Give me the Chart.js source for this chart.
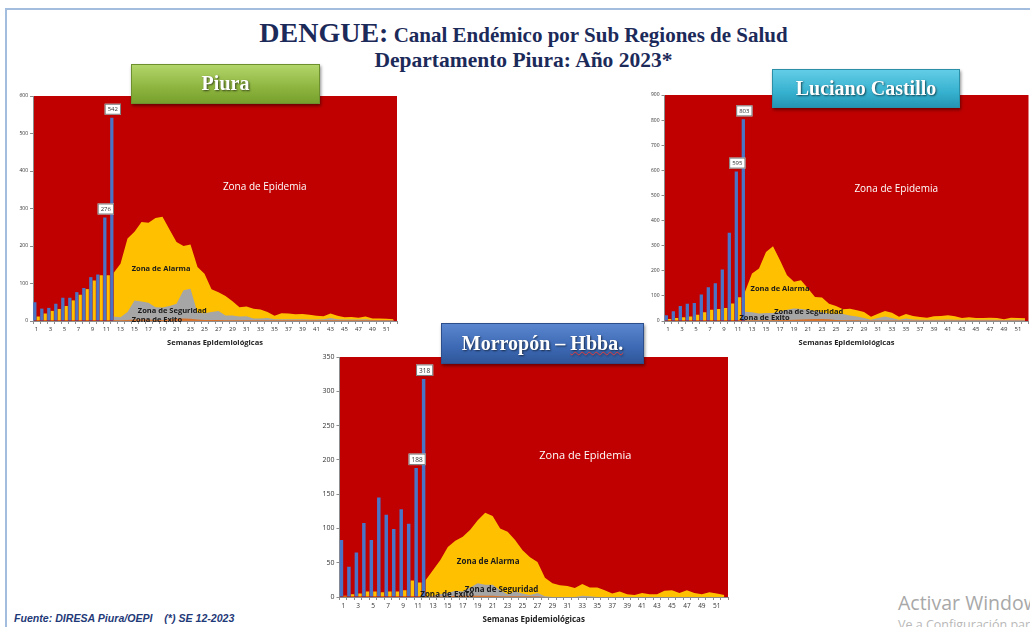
<!DOCTYPE html>
<html>
<head>
<meta charset="utf-8">
<script src="https://cdn.jsdelivr.net/npm/chart.js@4.4.0/dist/chart.umd.min.js"></script>
<style>
  html, body { margin: 0; padding: 0; background: #fff; }
  body { width: 1030px; height: 627px; position: relative; overflow: hidden; font-family: "Liberation Serif", serif; }
  .marco { position: absolute; left: 5px; top: 8px; width: 1040px; height: 640px; border-top: 2px solid #a3bddf; border-left: 2px solid #a3bddf; }
  canvas { position: absolute; }
  .titulo { position: absolute; left: 0; width: 1047px; text-align: center; color: #1c2a5a; font-weight: bold; white-space: nowrap; }
  .t1 { top: 17px; font-size: 21px; }
  .t1 b { font-size: 28px; }
  .t2 { top: 48px; font-size: 21.5px; }
  .caja { position: absolute; z-index: 5; color: #fff; font-weight: bold; font-size: 20px; text-align: center; box-sizing: border-box;
          text-shadow: 1px 1px 2px rgba(0,0,0,0.6); box-shadow: 1px 2px 3px rgba(0,0,0,0.45); white-space: nowrap; }
  .piura { left: 131px; top: 64px; width: 189px; height: 40px; line-height: 36px; border: 1px solid #6d8f2e;
           background: linear-gradient(#b3d56a, #8db43f 60%, #76a02c); }
  .luciano { left: 772px; top: 69px; width: 188px; height: 39px; line-height: 36px; border: 1px solid #2b8fa8;
             background: linear-gradient(#63cde6, #36b1cf 60%, #2595b4); }
  .morropon { left: 441px; top: 323px; width: 203px; height: 41px; line-height: 38px; border: 1px solid #2c4f8c;
              background: linear-gradient(#5a86cf, #3d69b4 60%, #2f5799); }
  .morropon u { text-decoration: underline wavy #e23b3b; text-decoration-thickness: 1px; }
  .fuente { position: absolute; left: 14px; top: 612px; font-family: "Liberation Sans", sans-serif; font-style: italic; font-weight: bold;
            font-size: 10.6px; color: #1f3a78; white-space: pre; }
  .aviso { position: absolute; left: 898px; top: 589px; font-family: "Open Sans", sans-serif; color: #a8a8a8; font-size: 19.5px; white-space: nowrap; }
  .aviso2 { position: absolute; left: 898px; top: 616px; font-family: "Open Sans", sans-serif; color: #b8b8b8; font-size: 12.5px; white-space: nowrap; }
</style>
</head>
<body>
<div class="marco"></div>
<div class="titulo t1"><b>DENGUE:</b> Canal Endémico por Sub Regiones de Salud</div>
<div class="titulo t2">Departamento Piura: Año 2023*</div>

<canvas id="cPiura" width="400" height="260" style="left:0px;top:90px"></canvas>
<canvas id="cLuciano" width="400" height="265" style="left:630px;top:85px"></canvas>
<canvas id="cMorropon" width="435" height="287" style="left:300px;top:340px"></canvas>

<div class="caja piura">Piura</div>
<div class="caja luciano">Luciano Castillo</div>
<div class="caja morropon">Morropón – <u>Hbba.</u></div>

<div class="fuente">Fuente: DIRESA Piura/OEPI    (*) SE 12-2023</div>
<div class="aviso">Activar Windows</div>
<div class="aviso2">Ve a Configuración para activar Windows.</div>

<script>
const semanas = [1,2,3,4,5,6,7,8,9,10,11,12,13,14,15,16,17,18,19,20,21,22,23,24,25,26,
                 27,28,29,30,31,32,33,34,35,36,37,38,39,40,41,42,43,44,45,46,47,48,49,50,51,52];
const semanasEtiquetadas = [11, 12];

// Piura
const piuraCasos = [50,33,35,46,62,62,77,88,117,124,276,542];
const piuraAlarmaSE1a11 = [12,20,27,32,40,55,70,85,108,122,122];
// canal endemico, semanas 12 a 52
const piuraAlarma = [128,153,220,238,264,262,275,278,244,211,200,204,144,126,85,77,67,53,37,39,
                     33,31,24,14,21,20,18,19,17,14,13,20,14,10,11,9,12,7,7,6,5];
const piuraSeguridad = [12,10,24,55,52,49,37,36,40,46,82,86,22,21,24,27,15,15,12,13,
                        7,7,8,5,5,5,5,5,4,4,5,8,5,4,4,4,5,3,3,3,3];
const piuraExito = [3,2,3,4,4,4,3,3,4,6,7,6,4,3,3,3,2,2,2,2,
                    2,2,2,2,2,2,2,2,2,2,2,2,2,2,2,2,2,2,2,2,2];

// Luciano Castillo
const lucianoCasos = [23,39,60,69,72,106,134,150,205,351,595,803];
const lucianoAlarmaSE1a11 = [8,12,15,18,25,35,45,48,52,70,95];
const lucianoAlarma = [116,189,209,275,298,242,182,156,162,129,96,94,69,60,47,49,43,36,17,29,
                       40,33,17,28,20,16,13,19,20,23,19,12,15,12,12,13,12,7,13,12,11];
const lucianoSeguridad = [37,35,30,32,32,38,45,50,48,45,40,35,30,28,28,22,18,12,5,12,
                          18,12,5,10,6,5,5,5,5,6,5,5,5,5,5,5,5,4,5,5,5];
const lucianoExito = [3,3,3,3,3,4,4,5,6,7,8,8,7,4,3,3,3,2,2,2,
                      2,2,2,2,2,2,2,2,2,2,2,2,2,2,2,2,2,2,2,2,2];

// Morropon - Huancabamba
const morroponCasos = [83,44,65,108,83,145,120,99,128,107,188,318];
const morroponAlarmaSE1a11 = [2,4,5,8,8,7,8,8,10,24,21];
const morroponAlarma = [24,39,54,73,82,88,98,112,123,118,100,95,83,68,58,51,28,20,17,16,
                        13,19,14,14,10,5,8,4,3,6,4,4,9,10,6,10,6,4,7,5,3];
const morroponSeguridad = [0,2,4,6,9,8,14,20,18,18,10,4,8,5,3,6,1,0,0,0,
                           0,2,1,0,0,0,0,0,0,0,0,0,0,0,0,0,0,0,0,0,0];
const morroponExito = [0,1,1,1,2,2,2,2,2,2,1,1,1,1,1,1,0,0,0,0,
                       0,0,0,0,0,0,0,0,0,0,0,0,0,0,0,0,0,0,0,0,0];

const ROJO = '#c00000', AMARILLO = '#ffc000', GRIS = '#a6a6a6', NARANJA = '#d8732e', AZUL = '#4a74c6';

function canal(id, d) {
  const antes = new Array(11).fill(null);
  const area = (vals, color, orden, label) => ({
    type: 'line', label, data: antes.concat(vals), fill: 'origin', backgroundColor: color,
    borderWidth: 0, borderColor: color, pointRadius: 0, tension: 0, order: orden
  });

  const fondo = {
    id: 'fondo',
    beforeDraw(chart) {
      const a = chart.chartArea, ctx = chart.ctx;
      ctx.save();
      ctx.fillStyle = ROJO;
      ctx.fillRect(a.left, a.top, a.right - a.left, a.bottom - a.top);
      ctx.restore();
    }
  };

  const textos = {
    id: 'textos',
    afterDatasetsDraw(chart) {
      const ctx = chart.ctx, xs = chart.scales.x, ys = chart.scales.y;
      ctx.save();
      ctx.textAlign = 'center';
      ctx.textBaseline = 'middle';
      d.zonas.forEach(z => {
        ctx.font = `${z.bold ? 'bold ' : ''}${z.fs}px "Open Sans", sans-serif`;
        ctx.fillStyle = z.color;
        ctx.fillText(z.text, xs.getPixelForValue(z.sem - 1), ys.getPixelForValue(z.val));
      });
      const meta = chart.getDatasetMeta(0);
      ctx.font = `${d.fsEtq}px "Open Sans", sans-serif`;
      semanasEtiquetadas.forEach(s => {
        const el = meta.data[s - 1];
        const txt = String(d.casos[s - 1]);
        const w = ctx.measureText(txt).width + 6, h = d.fsEtq + 5;
        const bx = el.x - w / 2 + 1, by = el.y - h - 3;
        ctx.fillStyle = '#fff';
        ctx.fillRect(bx, by, w, h);
        ctx.strokeStyle = '#7a7a7a';
        ctx.lineWidth = 1;
        ctx.strokeRect(bx + 0.5, by + 0.5, w - 1, h - 1);
        ctx.fillStyle = '#333';
        ctx.fillText(txt, el.x + 1, by + h / 2 + 0.5);
      });
      ctx.restore();
    }
  };

  return new Chart(document.getElementById(id), {
    data: {
      labels: semanas,
      datasets: [
        { type: 'bar', label: 'Casos 2023', data: d.casos, backgroundColor: AZUL, order: 0,
          categoryPercentage: 0.96, barPercentage: 0.97 },
        { type: 'bar', label: 'Zona de Alarma', data: d.alarma1a11, backgroundColor: AMARILLO, order: 0,
          categoryPercentage: 0.96, barPercentage: 0.97 },
        area(d.exito, NARANJA, 1, 'Zona de Exito'),
        area(d.seguridad, GRIS, 2, 'Zona de Seguridad'),
        area(d.alarma, AMARILLO, 3, 'Zona de Alarma')
      ]
    },
    options: {
      responsive: false,
      animation: false,
      layout: { padding: { left: 0, right: d.padR, top: d.padT, bottom: 0 } },
      plugins: { legend: { display: false }, tooltip: { enabled: false } },
      scales: {
        x: {
          offset: true,
          grid: { display: true, drawOnChartArea: false, tickLength: 3, color: '#8c8c8c' },
          border: { color: '#8c8c8c' },
          ticks: { autoSkip: false, maxRotation: 0, minRotation: 0, padding: 2, color: '#333',
                   font: { size: d.fsX, family: '"Open Sans", sans-serif' },
                   callback: (v, i) => (i % 2 === 0 ? semanas[i] : '') },
          title: { display: true, text: 'Semanas Epidemiológicas', color: '#222',
                   font: { size: d.fsTit, weight: 'bold', family: '"Open Sans", sans-serif' },
                   padding: { top: 0, bottom: d.titB } },
          afterFit: s => { s.height = d.xh; }
        },
        y: {
          min: 0, max: d.yMax,
          grid: { display: true, drawOnChartArea: false, tickLength: 3, color: '#8c8c8c' },
          border: { color: '#8c8c8c' },
          ticks: { stepSize: d.yStep, padding: 2, color: '#333',
                   font: { size: d.fsY, family: '"Open Sans", sans-serif' } },
          afterFit: s => { s.width = d.yw; }
        }
      }
    },
    plugins: [fondo, textos]
  });
}

canal('cPiura', {
  casos: piuraCasos, alarma1a11: piuraAlarmaSE1a11, alarma: piuraAlarma,
  seguridad: piuraSeguridad, exito: piuraExito,
  yMax: 600, yStep: 100, yw: 33, xh: 29, padT: 6, padR: 3, titB: 3,
  fsX: 6, fsY: 5, fsTit: 7.5, fsEtq: 6,
  zonas: [
    { text: 'Zona de Epidemia', sem: 33.6, val: 356, color: '#fff', fs: 10 },
    { text: 'Zona de Alarma', sem: 18.8, val: 139, color: '#1a1a1a', bold: true, fs: 7.5 },
    { text: 'Zona de Seguridad', sem: 20.4, val: 27, color: '#1a1a1a', bold: true, fs: 7.5 },
    { text: 'Zona de Exito', sem: 18.2, val: 3, color: '#1a1a1a', bold: true, fs: 7.5 }
  ]
});

canal('cLuciano', {
  casos: lucianoCasos, alarma1a11: lucianoAlarmaSE1a11, alarma: lucianoAlarma,
  seguridad: lucianoSeguridad, exito: lucianoExito,
  yMax: 900, yStep: 100, yw: 34.5, xh: 29, padT: 10, padR: 1.5, titB: 3,
  fsX: 6, fsY: 5, fsTit: 7.5, fsEtq: 6,
  zonas: [
    { text: 'Zona de Epidemia', sem: 33.6, val: 527, color: '#fff', fs: 10 },
    { text: 'Zona de Alarma', sem: 17.0, val: 127, color: '#1a1a1a', bold: true, fs: 7.5 },
    { text: 'Zona de Seguridad', sem: 21.1, val: 36, color: '#1a1a1a', bold: true, fs: 7.5 },
    { text: 'Zona de Exito', sem: 14.8, val: 12, color: '#1a1a1a', bold: true, fs: 7.5 }
  ]
});

canal('cMorropon', {
  casos: morroponCasos, alarma1a11: morroponAlarmaSE1a11, alarma: morroponAlarma,
  seguridad: morroponSeguridad, exito: morroponExito,
  yMax: 350, yStep: 50, yw: 39.5, xh: 30, padT: 17, padR: 7, titB: 2,
  fsX: 6.5, fsY: 7, fsTit: 8, fsEtq: 6.5,
  zonas: [
    { text: 'Zona de Epidemia', sem: 33.4, val: 206, color: '#fff', fs: 11 },
    { text: 'Zona de Alarma', sem: 20.4, val: 51, color: '#1a1a1a', bold: true, fs: 8 },
    { text: 'Zona de Seguridad', sem: 22.2, val: 11, color: '#1a1a1a', bold: true, fs: 8 },
    { text: 'Zona de Exito', sem: 14.9, val: 3.5, color: '#1a1a1a', bold: true, fs: 8 }
  ]
});
</script>
</body>
</html>
